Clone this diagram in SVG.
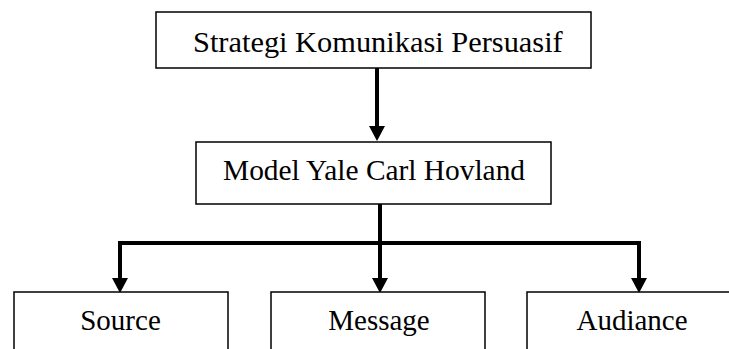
<svg xmlns="http://www.w3.org/2000/svg" width="729" height="349" viewBox="0 0 729 349">
<style>
.box{fill:#fff;stroke:#000;stroke-width:1.5}
.lbl{font-family:"Liberation Serif","Times New Roman",serif;font-size:29px;fill:#000;text-anchor:middle}
.conn{fill:none;stroke:#000;stroke-width:4;stroke-linejoin:miter}
</style>
<defs>
<marker id="ah" markerUnits="userSpaceOnUse" viewBox="0 0 15 16" markerWidth="15" markerHeight="16" refX="7" refY="8" orient="auto">
<path d="M0,0 L15,8 L0,16 z" fill="#000"/>
</marker>
</defs>
<rect width="729" height="349" fill="#fff"/>
<g id="connectors">
<path class="conn" d="M377,68 L377,133" marker-end="url(#ah)"/>
<path class="conn" d="M380,204 L380,285" marker-end="url(#ah)"/>
<path class="conn" d="M380,243 L120,243 L120,285" marker-end="url(#ah)"/>
<path class="conn" d="M380,243 L639,243 L639,285" marker-end="url(#ah)"/>
</g>
<g id="strategi">
<rect class="box" x="156" y="12" width="435" height="56"/>
<text class="lbl" x="193" y="52" style="text-anchor:start;font-size:30.4px">Strategi Komunikasi Persuasif</text>
</g>
<g id="model">
<rect class="box" x="196" y="142" width="355" height="62"/>
<text class="lbl" x="223" y="180" style="text-anchor:start;font-size:29.4px">Model Yale Carl Hovland</text>
</g>
<g id="source">
<rect class="box" x="14" y="292" width="214" height="70"/>
<text class="lbl" x="120.5" y="330">Source</text>
</g>
<g id="message">
<rect class="box" x="271" y="292" width="214" height="70"/>
<text class="lbl" x="379" y="330">Message</text>
</g>
<g id="audiance">
<rect class="box" x="527" y="292" width="214" height="70"/>
<text class="lbl" x="632" y="330">Audiance</text>
</g>
</svg>
